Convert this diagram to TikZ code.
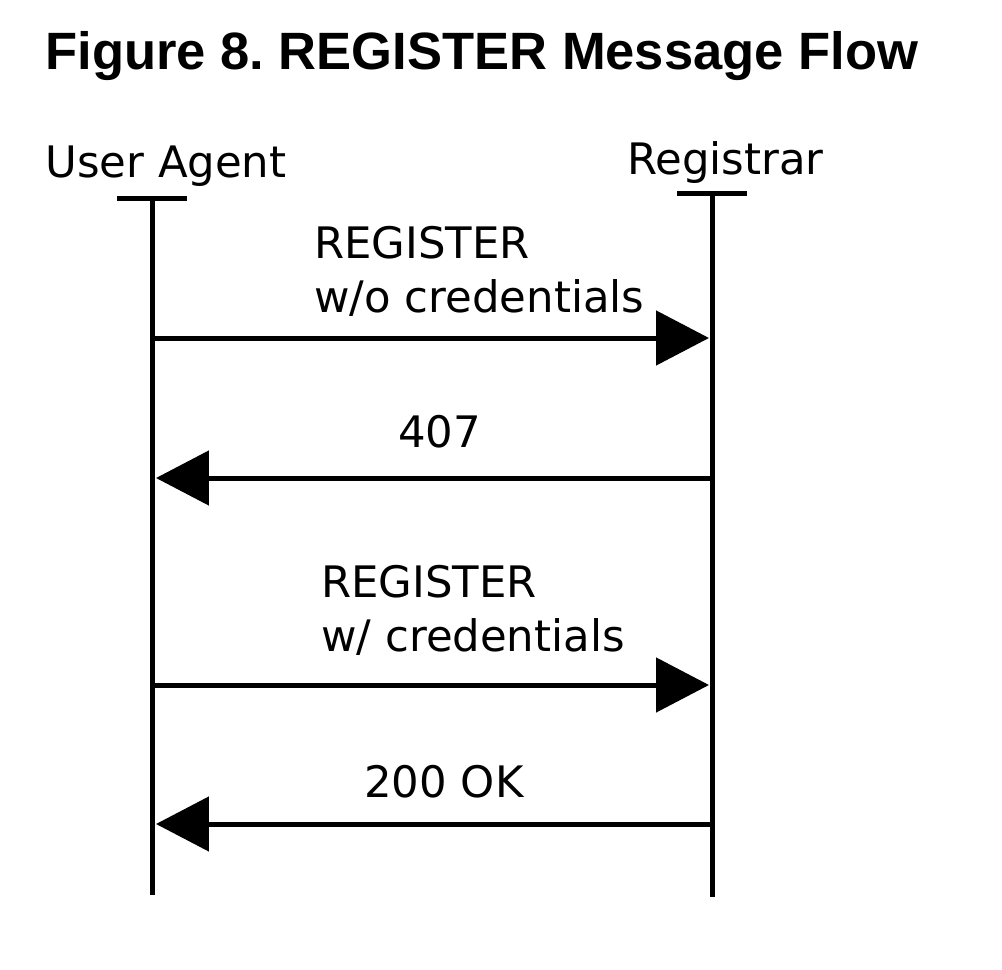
\documentclass[tikz,border=0pt]{standalone}
\usepackage{fontspec}
\setmainfont{DejaVu Sans}
\newfontfamily\titlefont{Liberation Sans}
\usetikzlibrary{arrows.meta}
\frenchspacing
\begin{document}
\begin{tikzpicture}[x=0.02cm,y=-0.02cm,
  lifeline/.style={line width=0.1cm},
  msg/.style={line width=0.1cm,-{Triangle[length=1.06cm,width=1.08cm]}},
  lbl/.style={anchor=base west,inner sep=0pt,font=\fontsize{24.7}{29}\selectfont},
  titlestyle/.style={anchor=base west,inner sep=0pt,font=\titlefont\bfseries\fontsize{29.9}{35}\selectfont}]
\useasboundingbox (0,0) rectangle (1002,970);
\node[titlestyle] (title) at (45,70) {Figure 8. REGISTER Message Flow};
% actors
\node[lbl] (ua) at (45,177) {User Agent};
\node[lbl] (reg) at (627,174) {Registrar};
% lifelines
\coordinate (uatop) at (152,198.5);
\coordinate (uabot) at (152,895);
\coordinate (regtop) at (712.5,193.5);
\coordinate (regbot) at (712.5,897);
\draw[lifeline] (117,198.5) -- (187,198.5);
\draw[lifeline] (677,193.5) -- (747,193.5);
\draw[lifeline] (uatop) -- (uabot);
\draw[lifeline] (regtop) -- (regbot);
% message end points
\coordinate (m1a) at (152,338);
\coordinate (m1b) at (709,338);
\coordinate (m2a) at (712.5,478);
\coordinate (m2b) at (156,478);
\coordinate (m3a) at (152,685);
\coordinate (m3b) at (709,685);
\coordinate (m4a) at (712.5,824);
\coordinate (m4b) at (156,824);
\draw[msg] (m1a) -- (m1b);
\draw[msg] (m2a) -- (m2b);
\draw[msg] (m3a) -- (m3b);
\draw[msg] (m4a) -- (m4b);
% labels
\node[lbl] (l1a) at (314,258) {REGISTER};
\node[lbl] (l1b) at (314,312) {w/o credentials};
\node[lbl] (l2) at (398,447) {407};
\node[lbl] (l3a) at (321,597) {REGISTER};
\node[lbl] (l3b) at (321,651) {w/ credentials};
\node[lbl] (l4) at (364,797) {200 OK};
\end{tikzpicture}
\end{document}
